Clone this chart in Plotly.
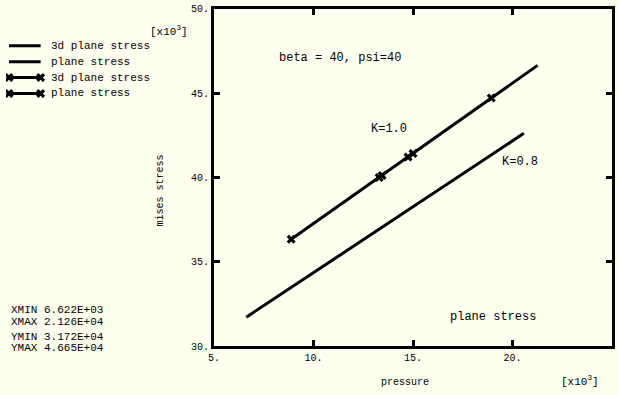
import plotly.graph_objects as go

W, H = 619, 395
BG = "#fffff0"
FONT = "Liberation Mono"

# ---- data ----
pressure_3d = [8.88, 21.26]
mises_3d = [36.34, 46.65]
pressure_ps = [6.622, 20.57]
mises_ps = [31.72, 42.62]
marker_3d_x = [8.88, 13.30, 14.75, 18.93]
marker_3d_y = [36.34, 40.00, 41.22, 44.72]
marker_ps_x = [13.45, 15.00]
marker_ps_y = [40.12, 41.42]

x_ticks = [5, 10, 15, 20, 25]
x_tick_text = ["5.", "10.", "15.", "20.", "25."]
y_ticks = [30, 35, 40, 45, 50]
y_tick_text = ["30.", "35.", "40.", "45.", "50."]

legend_names = ["3d plane stress", "plane stress", "3d plane stress", "plane stress"]
legend_markers = [False, False, True, True]

stat_names = ["XMIN", "XMAX", "YMIN", "YMAX"]
stat_values = ["6.622E+03", "2.126E+04", "3.172E+04", "4.665E+04"]

SY, OY = 0.9766, 3.1

def px(x):
    return x / W

def cy(t):
    return (t - OY) / SY

def py(t):
    return 1 - cy(t) / H

def py_plain(t):
    return 1 - t / H

fig = go.Figure()

line = dict(color="black", width=3)
fig.add_trace(go.Scatter(x=pressure_3d, y=mises_3d, mode="lines", line=line, showlegend=False))
fig.add_trace(go.Scatter(x=pressure_ps, y=mises_ps, mode="lines", line=line, showlegend=False))
mk = dict(symbol="x", size=8, color="black")
fig.add_trace(go.Scatter(x=marker_3d_x, y=marker_3d_y, mode="markers", marker=mk, showlegend=False))
fig.add_trace(go.Scatter(x=marker_ps_x, y=marker_ps_y, mode="markers", marker=mk, showlegend=False))

leg_y0, leg_dy = 45, 16
for i, (name, has_m) in enumerate(zip(legend_names, legend_markers)):
    yy = leg_y0 + i * leg_dy
    fig.add_trace(go.Scatter(
        x=[3, 35], y=[cy(yy), cy(yy)], xaxis="x2", yaxis="y2",
        mode="lines+markers" if has_m else "lines",
        line=line, marker=dict(symbol="x", size=8, color="black"),
        showlegend=False, hoverinfo="skip"))
    fig.add_annotation(x=px(43), y=py(yy), xref="paper", yref="paper", text=name,
                       showarrow=False, xanchor="left", yanchor="middle",
                       font=dict(family=FONT, size=11, color="black"))

stat_y = [311, 323, 338, 349]
for n, v, yy in zip(stat_names, stat_values, stat_y):
    fig.add_annotation(x=px(3), y=py(yy), xref="paper", yref="paper", text=n,
                       showarrow=False, xanchor="left", yanchor="middle",
                       font=dict(family=FONT, size=11, color="black"))
    fig.add_annotation(x=px(36), y=py(yy), xref="paper", yref="paper", text=v,
                       showarrow=False, xanchor="left", yanchor="middle",
                       font=dict(family=FONT, size=11, color="black"))

def ann(x, y, text, xanchor="left", size=11, angle=0):
    fig.add_annotation(x=px(x), y=py(y), xref="paper", yref="paper", text=text,
                       showarrow=False, xanchor=xanchor, yanchor="middle", textangle=angle,
                       font=dict(family=FONT, size=size, color="black"))

ann(143, 30, "[x10<sup>3</sup>]", size=11)
ann(558, 382, "[x10<sup>3</sup>]", size=11)
ann(403, 383, "pressure", xanchor="center", size=10)
ann(156, 190, "mises stress", xanchor="center", size=10, angle=-90)
ann(274, 57, "beta = 40, psi=40", size=12)
ann(367, 129, "K=1.0", size=12)
ann(499, 162, "K=0.8", size=12)
ann(446, 318, "plane stress", size=12)

axis_common = dict(showgrid=False, zeroline=False, showline=True, linecolor="black",
                   linewidth=3, mirror="ticks", ticks="inside", ticklen=6, tickwidth=3,
                   tickcolor="black", tickfont=dict(family=FONT, size=10, color="black"))

fig.update_layout(
    width=W, height=H, margin=dict(l=0, r=0, t=0, b=0, pad=0),
    paper_bgcolor=BG, plot_bgcolor="rgba(0,0,0,0)", showlegend=False,
    xaxis=dict(domain=[px(210), px(612)], range=[5, 25], tickvals=x_ticks,
               ticktext=x_tick_text, anchor="y", **axis_common),
    yaxis=dict(domain=[py_plain(352), py_plain(5)], range=[30, 50], tickvals=y_ticks,
               ticktext=y_tick_text, anchor="x", **axis_common),
    xaxis2=dict(domain=[0, 1], range=[0, W], visible=False, anchor="y2", fixedrange=True),
    yaxis2=dict(domain=[0, 1], range=[H, 0], visible=False, anchor="x2", fixedrange=True),
)

fig.write_html("out.html", config={"displayModeBar": False},
               post_script="document.body.style.margin='0';")
